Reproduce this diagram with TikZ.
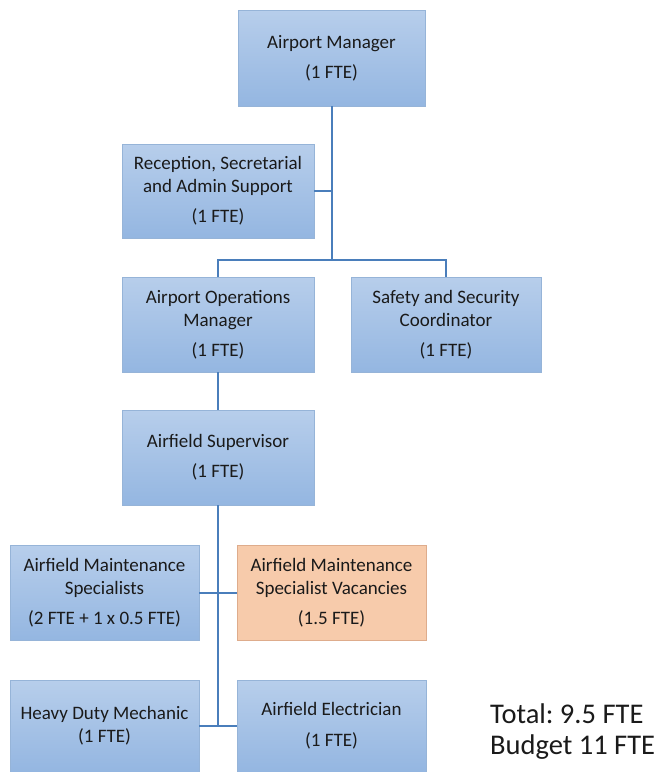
\documentclass[tikz,border=0pt]{standalone}
\usepackage{fontspec}
\setmainfont{Carlito}
\frenchspacing
\definecolor{bluetop}{RGB}{183,206,235}
\definecolor{bluebot}{RGB}{148,182,225}
\definecolor{blueedge}{RGB}{150,180,216}
\definecolor{orangefill}{RGB}{247,203,171}
\definecolor{orangeedge}{RGB}{222,172,140}
\definecolor{linkblue}{RGB}{74,126,187}
\definecolor{txt}{RGB}{26,26,26}
\tikzset{
  orgbox/.style={rectangle, draw=blueedge, line width=0.8pt,
    top color=bluetop, bottom color=bluebot, text=txt, align=center,
    inner sep=0pt, font=\fontsize{19}{23}\selectfont},
  vacbox/.style={orgbox, draw=orangeedge, top color=orangefill, bottom color=orangefill},
  link/.style={draw=linkblue, line width=2pt},
}
\begin{document}
\begin{tikzpicture}[x=1pt,y=-1pt]
\useasboundingbox (0,0) rectangle (658,772);

% boxes
\node[orgbox, minimum width=187pt, minimum height=96pt] (am) at (331.5,58)
  {Airport Manager\\[7pt](1 FTE)};
\node[orgbox, minimum width=192pt, minimum height=94pt] (rec) at (218,191)
  {Reception, Secretarial\\and Admin Support\\[7pt](1 FTE)};
\node[orgbox, minimum width=192pt, minimum height=95pt] (ops) at (218,324.5)
  {Airport Operations\\Manager\\[7pt](1 FTE)};
\node[orgbox, minimum width=190pt, minimum height=95pt] (saf) at (446,324.5)
  {Safety and Security\\Coordinator\\[7pt](1 FTE)};
\node[orgbox, minimum width=192pt, minimum height=95pt] (sup) at (218,457.5)
  {Airfield Supervisor\\[7pt](1 FTE)};
\node[orgbox, minimum width=189pt, minimum height=95pt] (ams) at (104.5,592.5)
  {Airfield Maintenance\\Specialists\\[7pt](2 FTE + 1 x 0.5 FTE)};
\node[vacbox, minimum width=189pt, minimum height=95pt] (vac) at (331.5,592.5)
  {Airfield Maintenance\\Specialist Vacancies\\[7pt](1.5 FTE)};
\node[orgbox, minimum width=189pt, minimum height=92pt] (hdm) at (104.5,726)
  {Heavy Duty Mechanic\\(1 FTE)};
\node[orgbox, minimum width=189pt, minimum height=92pt] (ele) at (331.5,726)
  {Airfield Electrician\\[8pt](1 FTE)};

% totals
\node[anchor=west, align=left, text=txt, inner sep=0pt,
  font=\fontsize{28.5}{31}\selectfont] (tot) at (490,732)
  {Total: 9.5 FTE\\Budget 11 FTE};

% connectors
\coordinate (bus) at (am.south |- 0,260);
\draw[link] (am.south) -- (bus);
\draw[link] (rec.east) -- (rec.east -| am.south);
\draw[link] (ops.north) |- (bus) -| (saf.north);
\draw[link] (ops.south) -- (sup.north);
\draw[link] (sup.south) -- (sup.south |- hdm.east);
\draw[link] (ams.east) -- (vac.west);
\draw[link] (hdm.east) -- (ele.west);
\end{tikzpicture}
\end{document}
